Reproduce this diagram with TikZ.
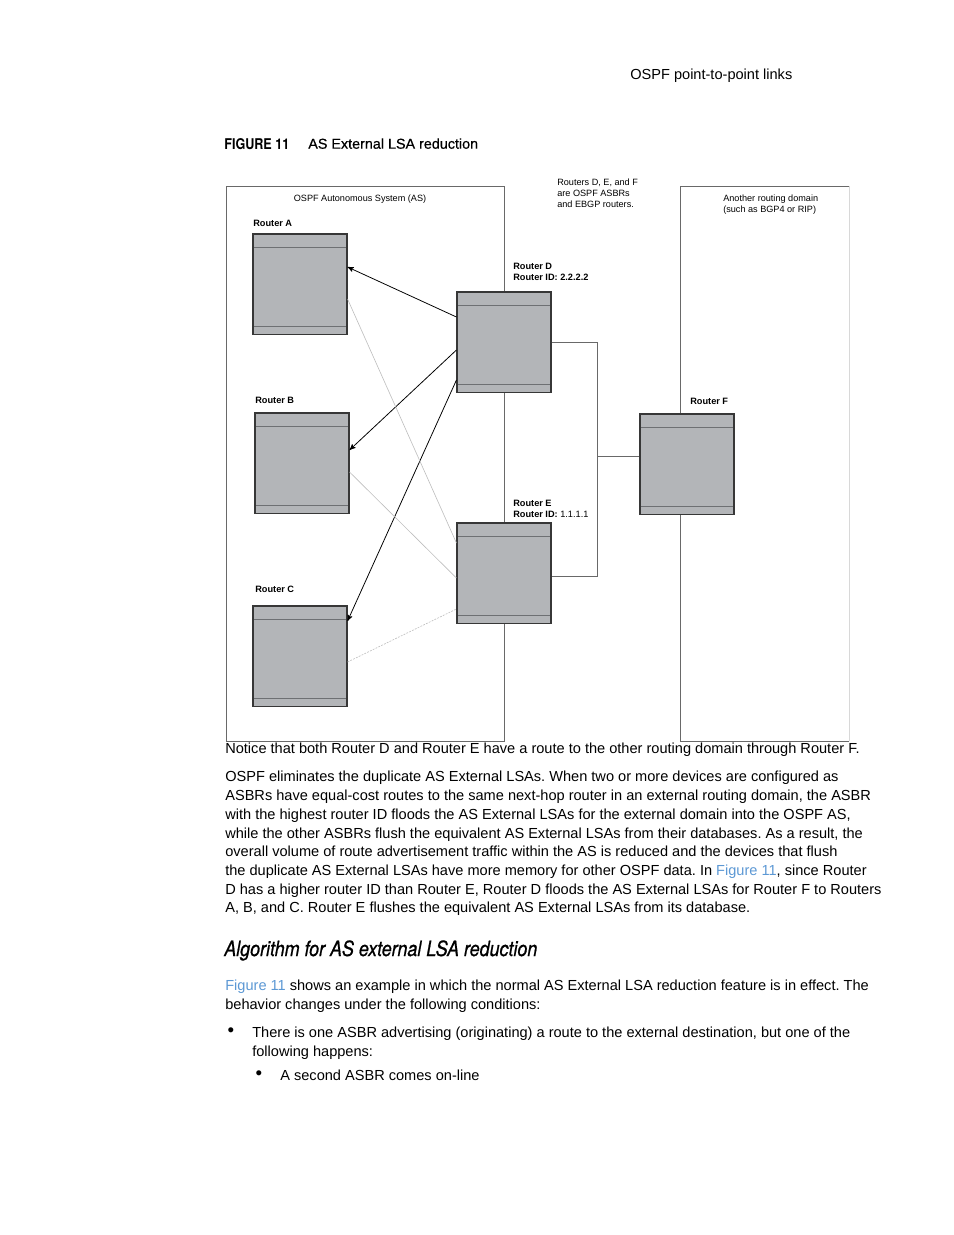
\documentclass[tikz,border=0pt]{standalone}
\usepackage{fontspec}
\setmainfont{Liberation Sans}
\newfontfamily\condfont[FakeStretch=0.85]{TeX Gyre Heros}
\newfontfamily\headfont[FakeStretch=0.85, FakeBold=0.7]{TeX Gyre Heros}
\newfontfamily\capfont[FakeBold=0.5]{Liberation Sans}
\usetikzlibrary{shapes,arrows,positioning,calc}
\definecolor{routerfill}{RGB}{179,181,184}
\definecolor{routeredge}{RGB}{55,55,55}
\definecolor{stripline}{RGB}{110,112,115}
\definecolor{domainline}{RGB}{105,105,105}
\definecolor{fadeline}{RGB}{190,190,190}
\definecolor{linkblue}{RGB}{92,152,212}
\frenchspacing

\tikzset{
  router/.style={draw=routeredge, line width=0.7pt, fill=routerfill, inner sep=0pt,
    minimum width=60.3pt, minimum height=64.2pt,
    path picture={
      \draw[stripline, line width=0.45pt] ([yshift=-8.3pt]path picture bounding box.north west) -- ([yshift=-8.3pt]path picture bounding box.north east);
      \draw[stripline, line width=0.45pt] ([yshift=5.1pt]path picture bounding box.south west) -- ([yshift=5.1pt]path picture bounding box.south east);
    }},
  rlabel/.style={font=\fontsize{5.9}{7}\selectfont\bfseries, anchor=north west, inner sep=0pt, align=left},
  note/.style={font=\fontsize{5.85}{7}\selectfont, inner sep=0pt, align=left},
  areabox/.style={draw=domainline, line width=0.5pt},
  uplink/.style={domainline, line width=0.6pt},
  flood/.style={-stealth', line width=0.5pt},
  flush/.style={fadeline, line width=0.4pt},
  body/.style={font=\fontsize{9.35}{12}\selectfont, inner sep=0pt, align=left, anchor=north west},
  dot/.style={font=\fontsize{12}{12}\selectfont, inner sep=0pt, anchor=center},
}

\begin{document}
\begin{tikzpicture}[x=0.6415pt, y=-0.6415pt]
\useasboundingbox (0,0) rectangle (954,1235);

% page header and caption
\node[body] (header) at (630,69) {OSPF point-to-point links};
\node[inner sep=0pt, anchor=north west, font=\condfont\fontsize{9.5}{12}\selectfont\bfseries] (fignum) at (224,138) {FIGURE 11};
\node[inner sep=0pt, anchor=north west, font=\capfont\fontsize{9.2}{12}\selectfont] (figtitle) at (308,138) {AS External LSA reduction};

% the two routing domains
\draw[areabox] (226,186) rectangle (504,741);
\draw[areabox] (849,741) -- (680,741) -- (680,186) -- (849,186);
\draw[areabox, draw=fadeline!60] (849,186) -- (849,741);

\node[note, anchor=center] (astitle) at (360,199) {OSPF Autonomous System (AS)};
\node[note, anchor=north west] (asbrnote) at (557,179) {Routers D, E, and F\\are OSPF ASBRs\\and EBGP routers.};
\node[note, anchor=north west] (extnote) at (723,195) {Another routing domain\\(such as BGP4 or RIP)};

% routers
\node[router] (ra) at (300,284) {};
\node[router] (rb) at (302,463) {};
\node[router] (rc) at (300,656) {};
\node[router] (rd) at (504,342) {};
\node[router] (re) at (504,573) {};
\node[router] (rf) at (687,464) {};

\node[rlabel] (la) at (253,219.5) {Router A};
\node[rlabel] (lb) at (255,396.5) {Router B};
\node[rlabel] (lc) at (255,585.5) {Router C};
\node[rlabel] (ld) at (513,262.5) {Router D\\Router ID: 2.2.2.2};
\node[rlabel] (le) at (513,499.5) {Router E\\Router ID: \mdseries 1.1.1.1};
\node[rlabel] (lf) at (690,397.5) {Router F};

% links to router F
\coordinate (jd) at (597,342);
\coordinate (je) at (597,576);
\coordinate (jf) at (597,456);
\draw[uplink] (rd.east) -- (jd) -- (je) -- ($(re.east)+(0,3)$);
\draw[uplink] (jf) -- ($(rf.west)+(0,-8)$);

% D floods, E flushes
\draw[flood] ($(rd.west)+(0,-25)$) -- ($(ra.east)+(0,-17)$);
\draw[flood] ($(rd.west)+(0,8)$) -- ($(rb.east)+(0,-13)$);
\draw[flood] ($(rd.west)+(0,38)$) -- ($(rc.east)+(0,-35)$);
\draw[flush] ($(ra.east)+(0,15)$) -- ($(re.west)+(0,-30)$);
\draw[flush] ($(rb.east)+(0,9)$) -- ($(re.west)+(0,5)$);
\draw[flush, dash pattern=on 1.2pt off 0.8pt] ($(rc.east)+(0,6)$) -- ($(re.west)+(0,36)$);

% text below the figure
\node[body] (p1) at (225,743) {Notice that both Router D and Router E have a route to the other routing domain through Router F.};
\node[body] (p2) at (225,771) {OSPF eliminates the duplicate AS External LSAs. When two or more devices are configured as\\
ASBRs have equal-cost routes to the same next-hop router in an external routing domain, the ASBR\\
with the highest router ID floods the AS External LSAs for the external domain into the OSPF AS,\\
while the other ASBRs flush the equivalent AS External LSAs from their databases. As a result, the\\
overall volume of route advertisement traffic within the AS is reduced and the devices that flush\\
the duplicate AS External LSAs have more memory for other OSPF data. In \textcolor{linkblue}{Figure 11}, since Router\\
D has a higher router ID than Router E, Router D floods the AS External LSAs for Router F to Routers\\
A, B, and C. Router E flushes the equivalent AS External LSAs from its database.};
\node[inner sep=0pt, anchor=north west, font=\headfont\fontsize{13.5}{15}\selectfont\itshape] (algo) at (224,940) {Algorithm for AS external LSA reduction};
\node[body] (p3) at (225,980) {\textcolor{linkblue}{Figure 11} shows an example in which the normal AS External LSA reduction feature is in effect. The\\
behavior changes under the following conditions:};
\node[dot] (b1) at (231,1032) {\textbullet};
\node[body] (t1) at (252,1027) {There is one ASBR advertising (originating) a route to the external destination, but one of the\\
following happens:};
\node[dot] (b2) at (259,1075) {\textbullet};
\node[body] (t2) at (280,1070) {A second ASBR comes on-line};
\end{tikzpicture}
\end{document}
